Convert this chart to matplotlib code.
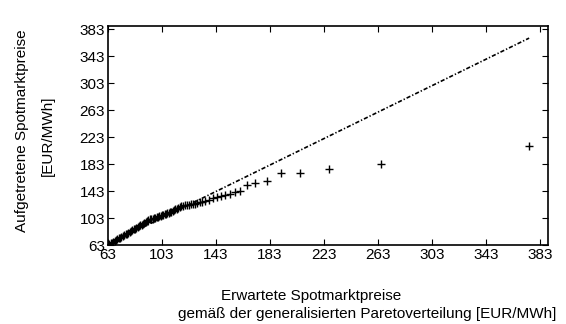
import matplotlib
matplotlib.use("Agg")
import matplotlib.pyplot as plt

plt.rcParams["font.family"] = ["Liberation Sans", "DejaVu Sans"]

# Erwartete (Pareto) vs. aufgetretene Spotmarktpreise
erwartet = [63, 64, 65, 66, 67, 68, 69, 70, 71, 72, 73, 74, 75, 76, 77, 78, 79, 80,
            81, 82, 83, 84, 85, 86, 87, 88, 89, 90, 91, 92, 93, 94, 95, 96, 97, 98,
            99, 100, 101, 102, 103, 104, 105, 106, 107, 108, 109, 110, 111, 112, 113,
            114, 115, 116, 117, 118.5, 120, 121.5, 123, 124.5, 126, 127.5, 129, 131,
            133, 135, 138, 141, 144, 147, 150, 153.5, 157, 161, 166, 172, 181, 191,
            205, 227, 265, 375]
aufgetreten = [63, 64.2, 65.4, 66.6, 67.9, 69.1, 70.3, 71.5, 72.7, 73.9, 75.2, 76.4,
               77.6, 78.8, 80.0, 81.2, 82.5, 83.7, 84.9, 86.1, 87.3, 88.6, 89.8, 91.0,
               92.2, 93.4, 94.6, 95.9, 97.1, 98.5, 100.2, 101.2, 101.6, 102.0, 102.6,
               103.4, 104.2, 105.0, 105.7, 106.4, 107.1, 107.8, 108.5, 109.3, 110.0,
               110.8, 111.6, 112.5, 113.5, 114.6, 115.8, 117.0, 118.3, 119.5, 120.6,
               121.2, 121.7, 122.1, 122.6, 123.2, 123.8, 124.5, 125.2, 126.1, 127.0,
               128.3, 130.5, 132.5, 134.5, 136.2, 137.6, 139.3, 141, 143, 152, 155.5,
               158, 169.5, 169.5, 175.5, 183.5, 210]

# Referenzgerade
ref_x = [63, 375]
ref_y = [64, 370]

ticks = [63, 103, 143, 183, 223, 263, 303, 343, 383]

fig = plt.figure(figsize=(5.66, 3.24), dpi=100)
ax = fig.add_axes([0.1908, 0.2438, 0.7774, 0.676])

ax.plot(ref_x, ref_y, color="black", linewidth=1.2, linestyle=(0, (2.5, 1.2, 0.8, 1.2)))
ax.plot(erwartet, aufgetreten, linestyle="none", marker="+", color="black",
        markersize=6, markeredgewidth=1.0)

ax.set_xlim(63, 389)
ax.set_ylim(63, 388)
ax.set_xticks(ticks)
ax.set_yticks(ticks)
ax.tick_params(direction="in", length=4, width=0.8, top=True, right=True,
               labelsize=11, pad=2)
for s in ax.spines.values():
    s.set_linewidth(1.2)

fig.text(311 / 566, 1 - 296 / 324, "Erwartete Spotmarktpreise",
         ha="center", va="center", fontsize=11)
fig.text(367 / 566, 1 - 314 / 324,
         "gemäß der generalisierten Paretoverteilung [EUR/MWh]",
         ha="center", va="center", fontsize=11)
fig.text(22 / 566, 1 - 131 / 324, "Aufgetretene Spotmarktpreise",
         ha="center", va="center", rotation=90, fontsize=11)
fig.text(48 / 566, 1 - 136 / 324, "[EUR/MWh]",
         ha="center", va="center", rotation=90, fontsize=11)

fig.savefig("out.png", dpi=100)
